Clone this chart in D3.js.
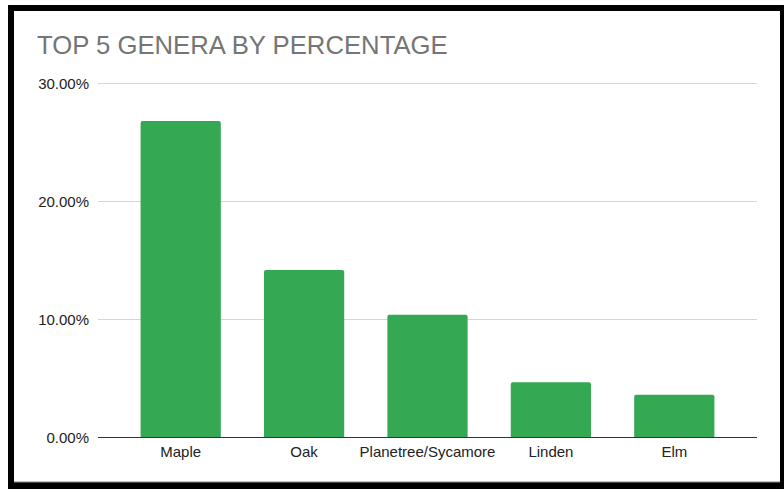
<!DOCTYPE html>
<html>
<head>
<meta charset="utf-8">
<script src="https://cdn.jsdelivr.net/npm/d3@7"></script>
<style>
  html, body { margin: 0; padding: 0; background: #fff; }
  svg { display: block; }
</style>
</head>
<body>
<svg id="chart" width="784" height="489"></svg>
<script>
// Share of street trees for the five most common genera
const genera = ["Maple", "Oak", "Planetree/Sycamore", "Linden", "Elm"];
const percentages = [26.78, 14.15, 10.36, 4.64, 3.58];
const yTicks = [0, 10, 20, 30];
const chartTitle = "TOP 5 GENERA BY PERCENTAGE";

const svg = d3.select("#chart");
const W = 784, H = 489;

// Black frame around the card
svg.append("rect").attr("x", 8).attr("y", 5).attr("width", W - 8).attr("height", H - 5).attr("fill", "#000");
svg.append("rect").attr("x", 14).attr("y", 11).attr("width", 766).attr("height", 471).attr("fill", "#fff");
svg.append("line").attr("x1", 14).attr("x2", 780).attr("y1", 482).attr("y2", 482)
  .attr("stroke", "#8a8a8a").attr("stroke-width", 1);

const font = "Arial, 'Liberation Sans', sans-serif";

svg.append("text")
  .attr("x", 37).attr("y", 54)
  .attr("font-family", font).attr("font-size", 25.7)
  .attr("fill", "#757575")
  .text(chartTitle);

const gridLeft = 98, gridRight = 757;
const x = d3.scaleBand().domain(genera).range([119, 736]).paddingInner(0.35).paddingOuter(0.175);
const y = d3.scaleLinear().domain([0, 30]).range([437, 83]);

// Horizontal gridlines
svg.append("g").selectAll("line").data(yTicks.filter(t => t > 0)).join("line")
  .attr("x1", gridLeft).attr("x2", gridRight)
  .attr("y1", d => y(d) + 0.5).attr("y2", d => y(d) + 0.5)
  .attr("stroke", "#d6d6d6").attr("stroke-width", 1);

// Y tick labels
svg.append("g").selectAll("text").data(yTicks).join("text")
  .attr("x", 89).attr("y", d => y(d) + 5.5)
  .attr("text-anchor", "end")
  .attr("font-family", font).attr("font-size", 15)
  .attr("fill", "#222")
  .text(d => d.toFixed(2) + "%");

// Bars with slightly rounded top corners
const r = 2;
function barPath(d, i) {
  const x0 = x(genera[i]), w = x.bandwidth();
  const top = y(d), base = y(0);
  const p = d3.path();
  p.moveTo(x0, base);
  p.lineTo(x0, top + r);
  p.quadraticCurveTo(x0, top, x0 + r, top);
  p.lineTo(x0 + w - r, top);
  p.quadraticCurveTo(x0 + w, top, x0 + w, top + r);
  p.lineTo(x0 + w, base);
  p.closePath();
  return p.toString();
}
svg.append("g").selectAll("path").data(percentages).join("path")
  .attr("d", barPath)
  .attr("fill", "#34a853");

// Baseline
svg.append("line").attr("x1", gridLeft).attr("x2", gridRight)
  .attr("y1", y(0) + 0.5).attr("y2", y(0) + 0.5)
  .attr("stroke", "#333").attr("stroke-width", 1);

// Category labels
svg.append("g").selectAll("text").data(genera).join("text")
  .attr("x", d => x(d) + x.bandwidth() / 2).attr("y", 457)
  .attr("text-anchor", "middle")
  .attr("font-family", font).attr("font-size", 15)
  .attr("fill", "#222")
  .text(d => d);
</script>
</body>
</html>
